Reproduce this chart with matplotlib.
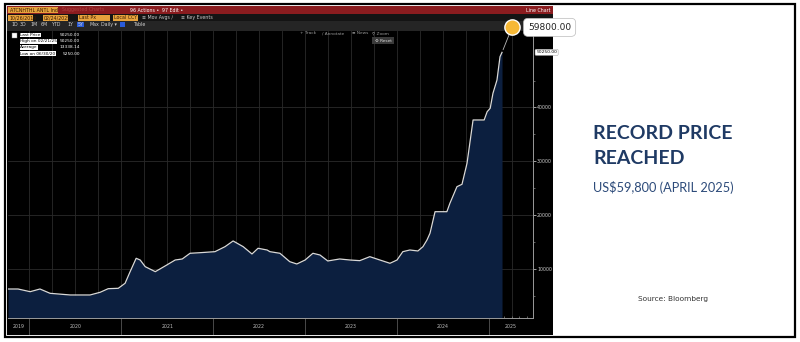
import matplotlib
matplotlib.use('Agg')
import matplotlib.pyplot as plt
import matplotlib.dates as mdates
import matplotlib.transforms as mtransforms
from matplotlib.patches import Rectangle
import pandas as pd

# price history (USD/t), read as daily closes at turning points
dates = [
    '2019-10-09', '2019-11-18', '2020-01-05', '2020-02-13', '2020-03-24',
    '2020-06-12', '2020-08-30', '2020-10-09', '2020-11-10', '2020-12-20',
    '2021-01-16', '2021-02-05', '2021-03-01', '2021-03-17', '2021-04-06',
    '2021-05-16', '2021-06-24', '2021-08-03', '2021-08-31', '2021-10-01',
    '2021-11-10', '2022-01-08', '2022-02-17', '2022-03-21', '2022-04-30',
    '2022-06-04', '2022-06-28', '2022-08-03', '2022-08-14', '2022-09-23',
    '2022-11-01', '2022-11-29', '2023-01-01', '2023-02-01', '2023-03-01',
    '2023-04-01', '2023-05-18', '2023-06-28', '2023-08-06', '2023-09-15',
    '2023-10-25', '2023-12-04', '2024-01-01', '2024-01-24', '2024-02-21',
    '2024-03-24', '2024-04-13', '2024-04-29', '2024-05-11', '2024-05-31',
    '2024-07-17', '2024-07-29', '2024-08-26', '2024-09-15', '2024-10-05',
    '2024-10-29', '2024-12-12', '2024-12-24', '2025-01-05', '2025-01-16',
    '2025-02-01', '2025-02-13', '2025-02-21',
]
prices = [
    6260, 6260, 5760, 6260, 5460,
    5150, 5150, 5650, 6320, 6390,
    7320, 9480, 11970, 11650, 10410,
    9480, 10540, 11650, 11840, 12900,
    13010, 13200, 14130, 15190, 14130,
    12770, 13830, 13510, 13200, 12900,
    11340, 10910, 11650, 12900, 12580,
    11470, 11840, 11650, 11530, 12270,
    11650, 11040, 11650, 13200, 13510,
    13330, 14130, 15370, 16620, 20630,
    20630, 22190, 25280, 25720, 29630,
    37680, 37680, 39220, 39850, 42640,
    45110, 49440, 50250,
]
years = [2019, 2020, 2021, 2022, 2023, 2024, 2025]
ytick_values = [10000, 20000, 30000, 40000]

last_price = 50250.00
high_date = '02/21/25'
average_price = 13338.14
low_price = 5250.00
low_date = '06/30/20'
peak_price = 59800.00

W, H = 800, 342
fig = plt.figure(figsize=(W / 100, H / 100), dpi=100)
fig.patch.set_facecolor('white')


def box(x0, y0, x1, y1, **kw):
    # rectangle given in pixels from the top-left corner
    r = Rectangle((x0 / W, 1 - y1 / H), (x1 - x0) / W, (y1 - y0) / H,
                  transform=fig.transFigure, **kw)
    fig.add_artist(r)
    return r


def txt(x, y, s, **kw):
    return fig.text(x / W, 1 - y / H, s, **kw)


# outer frame and terminal panel
box(5, 4, 795, 337, facecolor='none', edgecolor='black', lw=1.6, zorder=0)
box(7, 6, 553, 335, facecolor='black', edgecolor='none', zorder=0)

# header bars
box(7, 6, 553, 14, facecolor='#8a1c1f', edgecolor='none', zorder=1)
box(7, 14, 553, 21, facecolor='#141414', edgecolor='none', zorder=1)
box(7, 21, 553, 31, facecolor='#252525', edgecolor='none', zorder=1)
box(8, 7, 58, 13, facecolor='#e6a23c', edgecolor='none', zorder=2)
hs = dict(fontsize=3.4, va='center', zorder=3)
txt(10, 10, 'ATCNHTHL ANTL Ind', color='#3a1a00', **hs)
txt(62, 10, 'Suggested Charts', color='#b04040', **hs)
txt(130, 10, '96 Actions \u2022', color='white', **hs)
txt(162, 10, '97 Edit \u2022', color='white', **hs)
txt(551, 10, 'Line Chart', color='white', ha='right', fontsize=3.4,
    va='center', zorder=3)

for x0, x1, s in [(8, 33, '10/26/2019'), (43, 68, '02/24/2025'),
                  (78, 110, 'Last Px'), (113, 138, 'Local CCY')]:
    box(x0, 15, x1, 20.5, facecolor='#e6a23c', edgecolor='none', zorder=2)
    txt(x0 + 1, 17.8, s, color='#3a1a00', **hs)
txt(142, 17.8, '\u2261 Mov Avgs \u2215', color='#c9c9c9', **hs)
txt(181, 17.8, '\u2261 Key Events', color='#c9c9c9', **hs)

box(77, 22.5, 84, 27, facecolor='#2a5bd7', edgecolor='none', zorder=2)
box(120, 22.5, 125, 27, facecolor='#2a5bd7', edgecolor='none', zorder=2)
for x, s in [(11, '1D'), (20, '3D'), (30, '1M'), (41, '6M'), (52, 'YTD'),
             (67, '1Y'), (78, '5Y'), (89, 'Max'), (101, 'Daily \u25be'),
             (134, 'Table')]:
    txt(x, 24.8, s, color='#d0d0d0', **hs)

# price chart
ax = fig.add_axes([8 / W, 1 - 318 / H, (533 - 8) / W, (318 - 31) / H])
ax.set_zorder(4)
ax.set_facecolor('black')
dts = pd.to_datetime(dates)
ax.fill_between(dts, prices, 0, color='#0c1f3f', lw=0, zorder=2)
ax.plot(dts, prices, color='#d9d9d9', lw=0.9, zorder=3)
ax.set_xlim(pd.Timestamp('2019-10-09'), pd.Timestamp('2025-06-24'))
ax.set_ylim(870, 54220)

ax.yaxis.tick_right()
ax.set_yticks(ytick_values)
ax.set_yticks([5000, 15000, 25000, 35000, 45000], minor=True)
ax.tick_params(axis='y', which='major', length=2, width=0.6, color='#bbbbbb',
               labelsize=3.4, labelcolor='#cccccc', pad=1)
ax.tick_params(axis='y', which='minor', length=1.5, width=0.5, color='#888888')
ax.xaxis.set_major_locator(mdates.MonthLocator(bymonth=[1, 4, 7, 10]))
ax.xaxis.set_minor_locator(mdates.MonthLocator())
ax.tick_params(axis='x', which='both', direction='in', length=1.5, width=0.5,
               color='#888888', labelbottom=False)
ax.grid(True, which='major', color='#2a2a2a', lw=0.6, zorder=1)
for side in ['top', 'left']:
    ax.spines[side].set_visible(False)
for side in ['right', 'bottom']:
    ax.spines[side].set_color('#9a9a9a')
    ax.spines[side].set_linewidth(0.7)

# year separators and centred year labels under the axis
xmin, xmax = ax.get_xlim()
blend = mtransforms.blended_transform_factory(ax.transData, ax.transAxes)
for yr in years:
    start = max(mdates.date2num(pd.Timestamp(f'{yr}-01-01')), xmin)
    end = min(mdates.date2num(pd.Timestamp(f'{yr + 1}-01-01')), xmax)
    if yr > years[0]:
        ax.plot([start, start], [0, -0.055], transform=blend, color='#555555',
                lw=0.6, clip_on=False)
    ax.text((start + end) / 2, -0.031, str(yr), transform=blend,
            ha='center', va='center', fontsize=3.4, color='#bbbbbb')

# last price tag on the right axis
yblend = mtransforms.blended_transform_factory(ax.transAxes, ax.transData)
ax.text(1.006, last_price, f'{last_price:.2f}', transform=yblend,
        fontsize=3.2, color='black', va='center', ha='left', clip_on=False,
        bbox=dict(boxstyle='round,pad=0.25', fc='white', ec='#999999',
                  lw=0.3))

# legend block
rows = [('Last Price', f'{last_price:.2f}'),
        (f'High on {high_date}', f'{last_price:.2f}'),
        ('Average', f'{average_price:.2f}'),
        (f'Low on {low_date}', f'{low_price:.2f}')]
box(12, 32.5, 17, 37.5, facecolor='white', edgecolor='#888888', lw=0.3,
    zorder=5)
for i, (lab, val) in enumerate(rows):
    y = 35 + i * 6.2
    txt(20, y, lab, color='black', fontsize=3.1, va='center', zorder=6,
        bbox=dict(boxstyle='square,pad=0.1', fc='white', ec='none'))
    txt(80, y, val, color='white', fontsize=3.1, va='center', ha='right',
        zorder=6)

# chart toolbar
for x, s in [(300, '+ Track'), (322, '\u2215 Annotate'), (352, '\u2261 News'),
             (372, '\u26b2 Zoom')]:
    txt(x, 33.5, s, color='#9a9a9a', fontsize=3.1, va='center', zorder=6)
box(372, 37, 394, 44, facecolor='#3a3a3a', edgecolor='none', zorder=5)
txt(375, 40.5, '\u2699 Reset', color='#dddddd', fontsize=3.1, va='center',
    zorder=6)

# record high marker with leader line from the last close
last_date = dts[-1]
mark_tf = mtransforms.offset_copy(ax.transData, fig=fig, x=10, y=25,
                                  units='dots')
ax.annotate('', xy=(last_date, last_price), xytext=(10, 25),
            textcoords='offset pixels',
            arrowprops=dict(arrowstyle='-', color='#bbbbbb', lw=0.6,
                            shrinkA=0, shrinkB=2), zorder=6)
ax.plot([last_date], [last_price], marker='o', ms=11, mfc='#f6b836',
        mec='white', mew=1.0, transform=mark_tf, clip_on=False, zorder=7)
ax.annotate(f'{peak_price:.2f}', xy=(last_date, last_price), xytext=(26, 25),
            textcoords='offset pixels', ha='left', va='center', fontsize=6.5,
            color='#222222', annotation_clip=False, zorder=8,
            bbox=dict(boxstyle='round,pad=0.5', fc='white', ec='#bbbbbb',
                      lw=0.5))

# headline panel
navy = '#1f3a64'
txt(593, 133.5, 'RECORD PRICE', color=navy, fontsize=14, fontweight='bold',
    family='Lato', va='center')
txt(593, 158.5, 'REACHED', color=navy, fontsize=14, fontweight='bold',
    family='Lato', va='center')
txt(593, 187, 'US$59,800 (APRIL 2025)', color='#2d4b7a', fontsize=9.2,
    family='Lato', va='center')
txt(673, 299, 'Source: Bloomberg', color='#333333', fontsize=5.3,
    ha='center', va='center')

fig.savefig('out.png', dpi=100, facecolor='white')
